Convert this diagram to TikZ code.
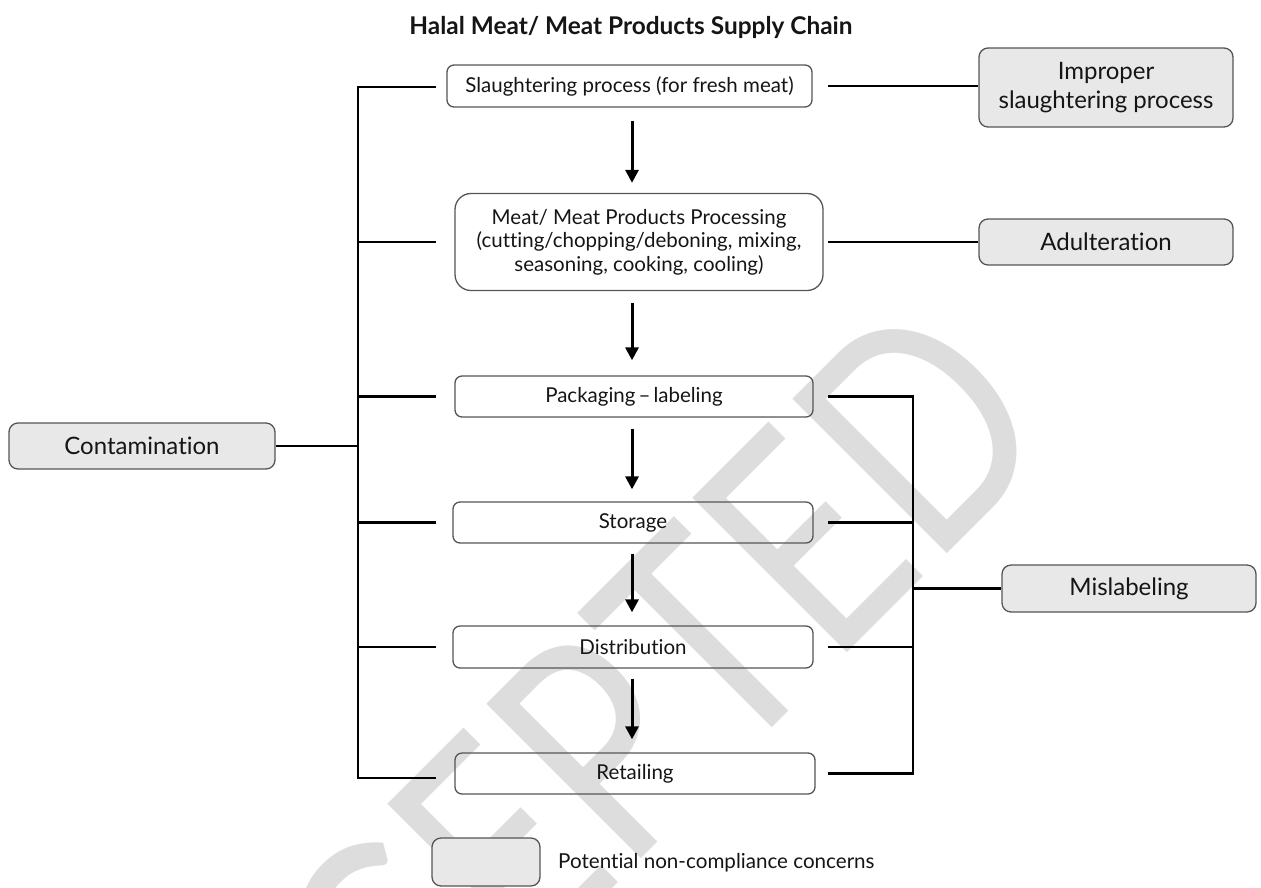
\documentclass[tikz,border=0pt]{standalone}
\usepackage{fontspec}
\setmainfont{Lato}[Ligatures=CommonOff]
\usetikzlibrary{arrows.meta,calc}
\definecolor{catfill}{HTML}{E8E8E8}
\definecolor{bord}{HTML}{555555}
\definecolor{wm}{HTML}{DDDDDD}
\definecolor{txt}{HTML}{151515}
\begin{document}
\begin{tikzpicture}[x=1pt,y=-1pt,
  proc/.style={draw=bord, line width=1.3pt, rounded corners=7pt, align=center, text=txt,
               font=\fontsize{20.5}{23.5}\selectfont, inner sep=0pt},
  cat/.style={draw=bord, fill=catfill, line width=1.3pt, rounded corners=9pt, align=center,
              text=txt, font=\fontsize{24}{29}\selectfont, inner sep=0pt, minimum width=254pt},
  conn/.style={line width=2.5pt, black},
  arr/.style={line width=3pt, black, -{Triangle[width=13pt,length=13pt]}}]
\useasboundingbox (0,0) rectangle (1261,887);
% watermark
\begin{scope}
  \clip (0,0) rectangle (1261,887);
  \node[rotate=45, text=wm, inner sep=0pt] (wmk) at (546,800)
    {\scalebox{0.8}[1]{\fontsize{305}{305}\selectfont ACCEPTED}};
\end{scope}
% title
\node[font=\bfseries\fontsize{24.4}{28}\selectfont, text=txt] (title) at (631,27)
  {Halal Meat/ Meat Products Supply Chain};
% process chain
\node[proc, minimum width=365pt, minimum height=42pt] (sl) at (629.5,86) {Slaughtering process (for fresh meat)};
\node[proc, minimum width=368pt, minimum height=97pt, rounded corners=16pt] (pr) at (639,242)
  {Meat/ Meat Products Processing\\(cutting/chopping/deboning, mixing,\\seasoning, cooking, cooling)};
\node[proc, minimum width=358pt, minimum height=41pt] (pk) at (634,396.5) {Packaging\hspace{0.15em}--\hspace{0.15em}labeling};
\node[proc, minimum width=360pt, minimum height=41pt] (st) at (633,522.5) {Storage};
\node[proc, minimum width=360pt, minimum height=42pt] (di) at (633,647) {Distribution};
\node[proc, minimum width=360pt, minimum height=41pt] (rt) at (635,773.5) {Retailing};
% concerns
\node[cat, minimum height=79pt] (imp) at (1106,87.5) {Improper\\slaughtering process};
\node[cat, minimum height=46pt] (adu) at (1106,242) {Adulteration};
\node[cat, minimum width=266pt, minimum height=46pt] (con) at (142,446) {Contamination};
\node[cat, minimum height=47pt] (mis) at (1129,588.5) {Mislabeling};
% legend
\node[cat, minimum width=108pt, minimum height=48pt] (leg) at (486,862) {};
\node[anchor=west, font=\fontsize{20.6}{24}\selectfont, text=txt, inner sep=0pt] (legt) at (558,863)
  {Potential non-compliance concerns};
% helper coordinates
\coordinate (ax) at (632,0);
\coordinate (lx) at (436,0);
\coordinate (lt) at (358,87);
\coordinate (lb) at (358,778);
\coordinate (rx) at (828,0);
\coordinate (rb) at (913,0);
% arrows
\draw[arr] ($(sl.south -| ax)+(0,13)$) -- ($(pr.north -| ax)+(0,-10)$);
\draw[arr] ($(pr.south -| ax)+(0,12)$) -- ($(pk.north -| ax)+(0,-15)$);
\draw[arr] ($(pk.south -| ax)+(0,11)$) -- ($(st.north -| ax)+(0,-12)$);
\draw[arr] ($(st.south -| ax)+(0,10)$) -- ($(di.north -| ax)+(0,-13)$);
\draw[arr] ($(di.south -| ax)+(0,10)$) -- ($(rt.north -| ax)+(0,-13)$);
% left bracket
\draw[conn] (lt -| lx) -- (lt) -- (lb) -- (lb -| lx);
\draw[conn] (pr.west -| lx) -- (pr.west -| lt);
\draw[conn] (pk.west -| lx) -- (pk.west -| lt);
\draw[conn] (st.west -| lx) -- (st.west -| lt);
\draw[conn] (di.west -| lx) -- (di.west -| lt);
\draw[conn] (con.east) -- (con.east -| lt);
% right side
\draw[conn] (sl.east -| rx) -- (sl.east -| imp.west);
\draw[conn] (pr.east -| rx) -- (pr.east -| adu.west);
\draw[conn] (pk.east -| rx) -- (pk.east -| rb) -- (rt.east -| rb) -- (rt.east -| rx);
\draw[conn] (st.east -| rx) -- (st.east -| rb);
\draw[conn] (di.east -| rx) -- (di.east -| rb);
\draw[conn] (mis.west -| rb) -- (mis.west);
\end{tikzpicture}
\end{document}
